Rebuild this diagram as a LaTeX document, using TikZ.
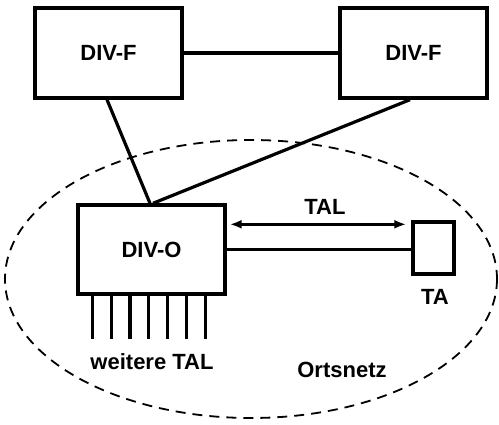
\documentclass[tikz,border=0pt]{standalone}
\usepackage{fontspec}
\setmainfont{Liberation Sans}
\usetikzlibrary{arrows.meta}
\begin{document}
\begin{tikzpicture}[x=1pt,y=-1pt,
  box/.style={draw,line width=3.4pt,inner sep=0pt,font=\fontsize{22}{26}\selectfont\bfseries},
  lbl/.style={font=\fontsize{22}{26}\selectfont\bfseries,inner sep=0pt},
  wire/.style={line width=3.2pt},
  zone/.style={line width=1.8pt,dash pattern=on 10pt off 7pt}]
\useasboundingbox (0,0) rectangle (499,425);
\draw[zone] (251,279) ellipse [x radius=246, y radius=139];
\node[box,minimum width=147pt,minimum height=90pt] (fl) at (108.5,53) {DIV-F};
\node[box,minimum width=147pt,minimum height=90pt] (fr) at (413.5,53) {DIV-F};
\node[box,minimum width=147pt,minimum height=89pt] (do) at (151.5,249.5) {DIV-O};
\node[box,minimum width=41pt,minimum height=52pt] (ta) at (433.5,248) {};
\draw[wire] (fl.east) -- (fr.west);
\draw[wire] ([xshift=-1.5pt]fl.south) -- ([xshift=-1.5pt]do.north);
\draw[wire] ([xshift=-3.5pt]fr.south) -- ([xshift=1.5pt]do.north);
\draw[wire] (do.east) -- (do.east -| ta.west);
\draw[line width=2.8pt,{Latex[length=12pt,width=9pt]}-{Latex[length=12pt,width=9pt]}]
  ([xshift=3pt,yshift=-4pt]do.east |- ta.north) -- ([xshift=-5pt,yshift=-4pt]ta.north west);
\foreach \i in {0,...,6}{
  \draw[wire] ([xshift={(16+\i*18.8)*1pt}]do.south west) -- ++(0,43);
}
\node[lbl] (tal) at (325,207) {TAL};
\node[lbl] (tal2) at (435,297) {TA};
\node[lbl] (wt) at (152,362) {weitere TAL};
\node[lbl] (on) at (342,370) {Ortsnetz};
\end{tikzpicture}
\end{document}
